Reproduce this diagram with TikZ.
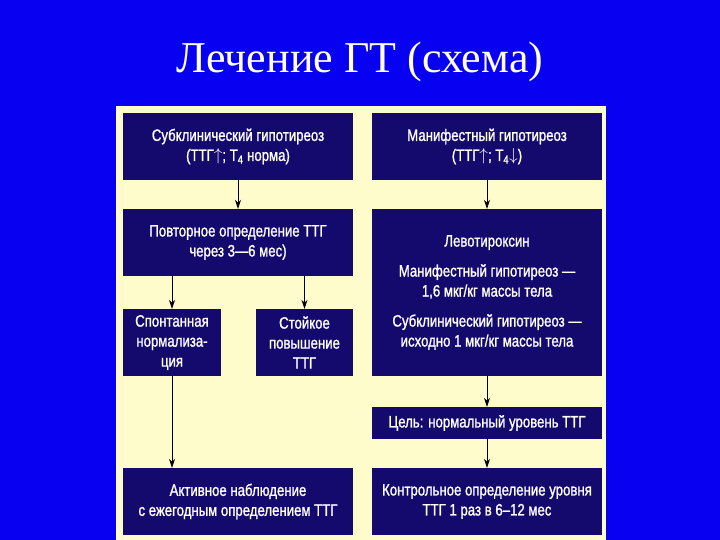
\documentclass[tikz,border=0pt]{standalone}
\usepackage{fontspec}
\setmainfont{Liberation Serif}
\newfontfamily\boxfont[FakeStretch=0.8,FakeBold=1.2]{Liberation Sans}
\usetikzlibrary{arrows.meta}
\definecolor{bgblue}{RGB}{8,0,240}
\definecolor{cream}{RGB}{255,252,204}
\definecolor{navy}{RGB}{20,10,110}
\tikzset{
  bx/.style={fill=navy,draw=none,text=white,align=center,inner sep=0pt,font=\boxfont\fontsize{16.5}{20}\selectfont},
  ar/.style={-{Stealth[length=9pt,width=6pt]},black,line width=0.8pt}
}
\begin{document}
\begin{tikzpicture}[x=1pt,y=-1pt]
\useasboundingbox (0,0) rectangle (720,540);
\fill[bgblue] (0,0) rectangle (720,540);
\node[text=white,font=\fontsize{44}{50}\selectfont] (title) at (360,62) {Лечение ГТ (схема)};
\fill[cream] (116,106) rectangle (606,540);
\newcommand\bxat[6]{\node[bx,minimum width=#4-#2,minimum height=#5-#3] (#1) at ({(#2+#4)/2},{(#3+#5)/2}) {#6};}
\bxat{A}{123}{113}{353}{180}{Субклинический гипотиреоз\\(ТТГ$\uparrow$; T\textsubscript{4} норма)}
\bxat{B}{372}{113}{602}{180}{Манифестный гипотиреоз\\(ТТГ$\uparrow$; T\textsubscript{4}$\downarrow$)}
\bxat{C}{123}{209}{353}{276}{Повторное определение ТТГ\\через 3—6 мес)}
\bxat{D}{372}{209}{602}{376}{Левотироксин\\[10pt]Манифестный гипотиреоз —\\1,6 мкг/кг массы тела\\[10pt]Субклинический гипотиреоз —\\исходно 1 мкг/кг массы тела}
\bxat{E}{123}{309}{221}{376}{Спонтанная\\нормализа-\\ция}
\bxat{F}{256}{309}{353}{376}{Стойкое\\повышение\\ТТГ}
\bxat{G}{372}{407}{602}{439}{Цель: нормальный уровень ТТГ}
\bxat{H}{123}{468}{353}{535}{Активное наблюдение\\с ежегодным определением ТТГ}
\bxat{I}{372}{468}{602}{535}{Контрольное определение уровня\\ТТГ 1 раз в 6–12 мес}
\draw[ar] (A.south) -- (C.north);
\draw[ar] (B.south) -- (D.north);
\draw[ar] (C.south -| E.north) -- (E.north);
\draw[ar] (C.south -| F.north) -- (F.north);
\draw[ar] (E.south) -- (H.north -| E.south);
\draw[ar] (D.south) -- (G.north);
\draw[ar] (G.south) -- (I.north);
\end{tikzpicture}
\end{document}
